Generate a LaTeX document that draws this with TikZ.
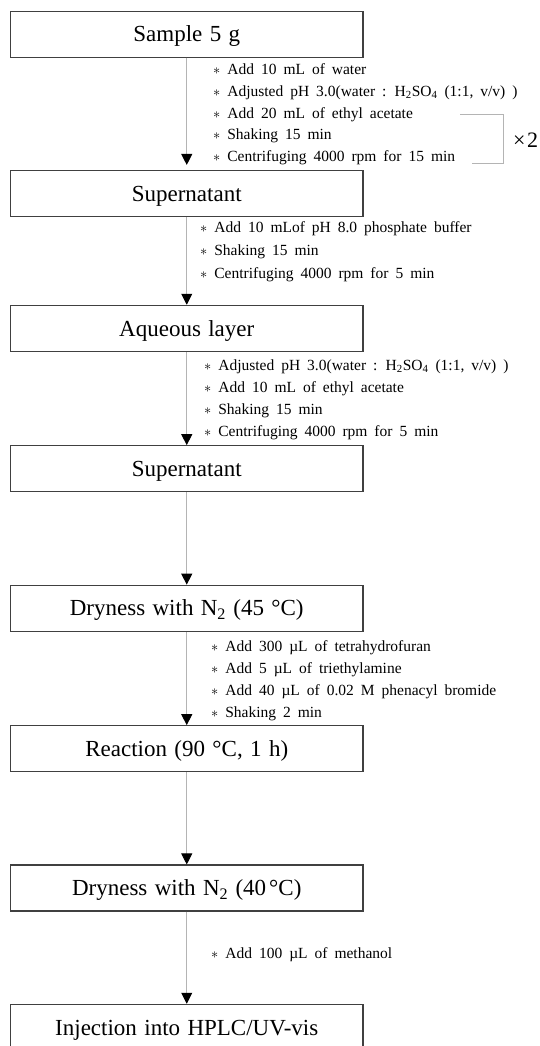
\documentclass[tikz,border=0pt]{standalone}
\usepackage{fontspec}
\setmainfont{Liberation Serif}
\newcommand\degc{°C}
\newcommand\boxfont{\fontsize{23}{27}\selectfont\spaceskip 0.32em\relax}
\newcommand\notefont{\fontsize{15.5}{18}\selectfont\spaceskip 0.45em\relax}
\usetikzlibrary{arrows.meta}
\definecolor{boxgray}{HTML}{404040}
\definecolor{linegray}{HTML}{B4B4B4}
\tikzset{
  stepbox/.style={draw=boxgray, line width=1.1pt, fill=white,
    minimum width=352.5pt, minimum height=46pt, inner sep=0pt,
    text height=15.5pt, text depth=0pt, font=\boxfont},
  note/.style={anchor=base west, inner sep=0pt, font=\notefont},
  flow/.style={draw=linegray, line width=0.9pt,
    -{Triangle[width=11pt,length=11pt,color=black,fill=black]}},
  bracket/.style={draw=linegray, line width=0.9pt}
}
\begin{document}
\begin{tikzpicture}[x=1pt,y=-1pt]
\useasboundingbox (0,0) rectangle (540,1046);
\clip (0,0) rectangle (540,1046);

% boxes
\node[stepbox] (b1) at (186.75,34.2)  {Sample 5 g};
\node[stepbox] (b2) at (186.75,193.5) {Supernatant};
\node[stepbox] (b3) at (186.75,328.3) {Aqueous layer};
\node[stepbox] (b4) at (186.75,468.7) {Supernatant};
\node[stepbox] (b5) at (186.75,608.2) {Dryness with N\textsubscript{2} (45 \degc)};
\node[stepbox] (b6) at (186.75,748.7) {Reaction (90 \degc, 1 h)};
\node[stepbox] (b7) at (186.75,888)   {Dryness with N\textsubscript{2} (40\hspace{3pt}\degc)};
\node[stepbox] (b8) at (186.75,1027.3) {Injection into HPLC/UV-vis};

% connectors
\draw[flow] (b1.south) -- ([yshift=5pt]b2.north);
\draw[flow] (b2.south) -- (b3.north);
\draw[flow] (b3.south) -- (b4.north);
\draw[flow] (b4.south) -- (b5.north);
\draw[flow] (b5.south) -- (b6.north);
\draw[flow] (b6.south) -- (b7.north);
\draw[flow] (b7.south) -- (b8.north);

% group 1
\node[note] (g1a) at (213,74.5)  {$\ast$ Add 10 mL of water};
\node[note] (g1b) at (213,96.5)  {$\ast$ Adjusted pH 3.0(water : H\textsubscript{2}SO\textsubscript{4} (1:1, v/v) )};
\node[note] (g1c) at (213,118)   {$\ast$ Add 20 mL of ethyl acetate};
\node[note] (g1d) at (213,139.5) {$\ast$ Shaking 15 min};
\node[note] (g1e) at (213,161.5) {$\ast$ Centrifuging 4000 rpm for 15 min};

% repeat bracket
\coordinate (r1) at (460,114);
\coordinate (r2) at (503,114);
\coordinate (r3) at (503,163);
\coordinate (r4) at (472,163);
\draw[bracket] (r1) -- (r2) -- (r3) -- (r4);
\node[anchor=base west, inner sep=0pt, font=\fontsize{22}{26}\selectfont] (x2) at (513,147) {×\hspace{1.5pt}2};

% group 2
\node[note] (g2a) at (200,232)   {$\ast$ Add 10 mLof pH 8.0 phosphate buffer};
\node[note] (g2b) at (200,255.5) {$\ast$ Shaking 15 min};
\node[note] (g2c) at (200,278)   {$\ast$ Centrifuging 4000 rpm for 5 min};

% group 3
\node[note] (g3a) at (204,370.5) {$\ast$ Adjusted pH 3.0(water : H\textsubscript{2}SO\textsubscript{4} (1:1, v/v) )};
\node[note] (g3b) at (204,392.5) {$\ast$ Add 10 mL of ethyl acetate};
\node[note] (g3c) at (204,414.5) {$\ast$ Shaking 15 min};
\node[note] (g3d) at (204,436.5) {$\ast$ Centrifuging 4000 rpm for 5 min};

% group 4
\node[note] (g4a) at (211,651.5) {$\ast$ Add 300 µL of tetrahydrofuran};
\node[note] (g4b) at (211,673.5) {$\ast$ Add 5 µL of triethylamine};
\node[note] (g4c) at (211,695.5) {$\ast$ Add 40 µL of 0.02 M phenacyl bromide};
\node[note] (g4d) at (211,717.5) {$\ast$ Shaking 2 min};

% group 5
\node[note] (g5a) at (211,958.5) {$\ast$ Add 100 µL of methanol};
\end{tikzpicture}
\end{document}
